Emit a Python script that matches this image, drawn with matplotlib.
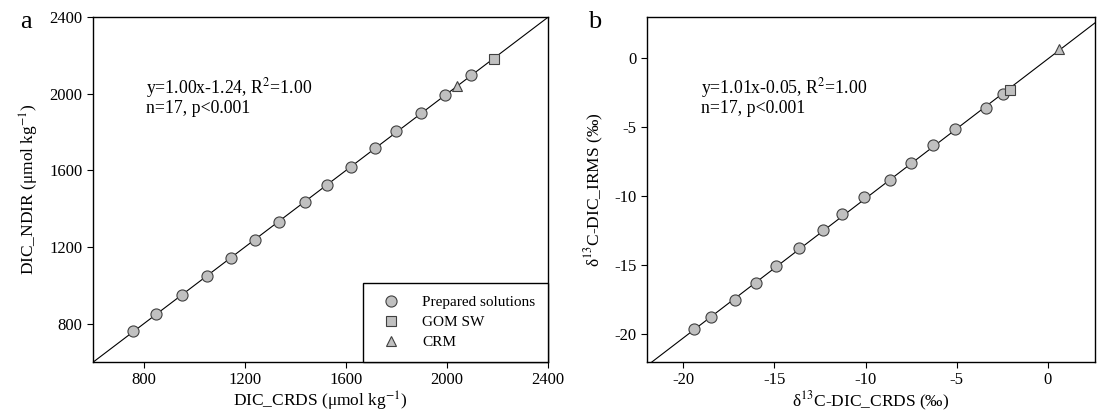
import numpy as np
import matplotlib
matplotlib.use('Agg')
import matplotlib.pyplot as plt

plt.rcParams['font.family'] = ['Liberation Serif', 'DejaVu Serif']
plt.rcParams['mathtext.fontset'] = 'stix'
plt.rcParams['axes.unicode_minus'] = False
plt.rcParams['font.size'] = 12

# panel a: DIC (umol/kg)
dic_crds_prep = [760, 851, 951, 1052, 1144, 1240, 1334, 1437, 1524, 1619, 1714, 1800, 1897, 1992, 2097]
dic_ndir_prep = [762, 850, 950, 1050, 1143, 1238, 1330, 1433, 1522, 1620, 1715, 1805, 1900, 1992, 2098]
dic_crds_gom = [2187]
dic_ndir_gom = [2183]
dic_crds_crm = [2040]
dic_ndir_crm = [2042]

# panel b: d13C-DIC (permil)
d13_crds_prep = [-19.41, -18.49, -17.19, -15.99, -14.92, -13.64, -12.31, -11.27, -10.11,
                 -8.63, -7.53, -6.28, -5.08, -3.38, -2.46]
d13_irms_prep = [-19.62, -18.73, -17.51, -16.24, -15.03, -13.71, -12.46, -11.24, -10.03,
                 -8.78, -7.56, -6.27, -5.08, -3.60, -2.61]
d13_crds_gom = [-2.08]
d13_irms_gom = [-2.28]
d13_crds_crm = [0.65]
d13_irms_crm = [0.71]

fig = plt.figure(figsize=(10.97, 4.12), dpi=100)
W, H = 1097, 412
ax1 = fig.add_axes([93 / W, 1 - 362 / H, 455 / W, 345 / H])
ax2 = fig.add_axes([647 / W, 1 - 362 / H, 448 / W, 345 / H])

mk = dict(linestyle='none', markerfacecolor='#c0c0c0', markeredgecolor='#404040', markeredgewidth=0.8)

# a
xl = np.array([600, 2400])
ax1.plot(xl, 1.00 * xl - 1.24, color='black', lw=0.8)
ax1.plot(dic_crds_prep, dic_ndir_prep, marker='o', markersize=8, label='Prepared solutions', **mk)
ax1.plot(dic_crds_gom, dic_ndir_gom, marker='s', markersize=7, label='GOM SW', **mk)
ax1.plot(dic_crds_crm, dic_ndir_crm, marker='^', markersize=7, label='CRM', **mk)
ax1.set_xlim(600, 2400)
ax1.set_ylim(600, 2400)
ax1.set_xticks([800, 1200, 1600, 2000, 2400])
ax1.set_yticks([800, 1200, 1600, 2000, 2400])
ax1.set_xlabel('DIC_CRDS (μmol kg$^{-1}$)', fontsize=12.5, labelpad=1)
ax1.set_ylabel('DIC_NDIR (μmol kg$^{-1}$)', fontsize=12.5, labelpad=6)
ax1.text(0.116, 0.83, 'y=1.00x-1.24, R$^{2}$=1.00\nn=17, p<0.001', transform=ax1.transAxes,
         va='top', ha='left', linespacing=1.05, fontsize=12.8)
leg = ax1.legend(loc='lower right', borderaxespad=0, fancybox=False, edgecolor='black',
                 fontsize=11, handletextpad=1.0, borderpad=0.85, labelspacing=0.4,
                 framealpha=1)
leg.get_frame().set_linewidth(1.0)
fig.text(20 / W, 1 - 22 / H, 'a', fontsize=19, ha='left', va='center')

# b
xl2 = np.array([-22, 3])
ax2.plot(xl2, 1.01 * xl2 - 0.05, color='black', lw=0.8)
ax2.plot(d13_crds_prep, d13_irms_prep, marker='o', markersize=8, **mk)
ax2.plot(d13_crds_gom, d13_irms_gom, marker='s', markersize=7, **mk)
ax2.plot(d13_crds_crm, d13_irms_crm, marker='^', markersize=7, **mk)
ax2.set_xlim(-22, 2.6)
ax2.set_ylim(-22, 3)
ax2.set_xticks([-20, -15, -10, -5, 0])
ax2.set_yticks([-20, -15, -10, -5, 0])
ax2.set_xlabel('δ$^{13}$C-DIC_CRDS (‰)', fontsize=12.5, labelpad=1)
ax2.set_ylabel('δ$^{13}$C-DIC_IRMS (‰)', fontsize=12.5, labelpad=6)
ax2.text(0.12, 0.83, 'y=1.01x-0.05, R$^{2}$=1.00\nn=17, p<0.001', transform=ax2.transAxes,
         va='top', ha='left', linespacing=1.05, fontsize=12.8)
fig.text(588 / W, 1 - 22 / H, 'b', fontsize=19, ha='left', va='center')

for ax in (ax1, ax2):
    ax.tick_params(direction='out', length=4, width=0.8, labelsize=12)
    for s in ax.spines.values():
        s.set_linewidth(1.0)

fig.savefig('out.png', dpi=100)
